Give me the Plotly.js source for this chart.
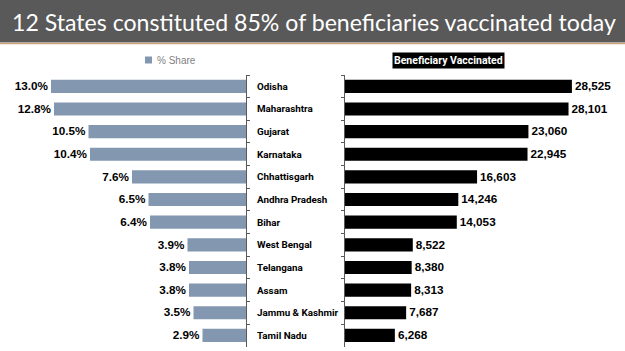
<!DOCTYPE html>
<html><head><meta charset="utf-8">
<script src="https://cdn.plot.ly/plotly-3.0.1.min.js"></script>
<style>html,body{margin:0;padding:0;background:#fff}#c{width:625px;height:351px}</style>
</head><body><div id="c"></div>
<script>
const states = ["Odisha","Maharashtra","Gujarat","Karnataka","Chhattisgarh","Andhra Pradesh","Bihar","West Bengal","Telangana","Assam","Jammu & Kashmir","Tamil Nadu"];
const sharePct = [13.0,12.8,10.5,10.4,7.6,6.5,6.4,3.9,3.8,3.8,3.5,2.9];
const vaccinated = [28525,28101,23060,22945,16603,14246,14053,8522,8380,8313,7687,6268];
const titleText = "12 States constituted 85% of beneficiaries vaccinated today";
const legendShare = "% Share";
const legendVacc = "Beneficiary Vaccinated";

const W = 625, H = 351;
const py = p => 1 - p / H;
const px = p => p / W;
const valFont = {family: "Liberation Sans, Arial, sans-serif", size: 12.5, color: "#000", weight: "bold"};

const traces = [
  {type: "bar", orientation: "h", y: states, x: sharePct, xaxis: "x", yaxis: "y",
   marker: {color: "#8497b0"}, text: sharePct.map(v => v.toFixed(1) + "%"),
   textposition: "outside", textfont: valFont,
   cliponaxis: false, hoverinfo: "none", showlegend: false},
  {type: "bar", orientation: "h", y: states, x: vaccinated, xaxis: "x2", yaxis: "y2",
   marker: {color: "#000"}, text: vaccinated.map(v => v.toLocaleString("en-US")),
   textposition: "outside", textfont: valFont,
   cliponaxis: false, hoverinfo: "none", showlegend: false}
];

const yDom = [py(346.7), py(75)];
const annotations = states.map(s => ({
  xref: "paper", yref: "y", x: px(255), y: s, xanchor: "left", yanchor: "middle",
  text: "<b>" + s + "</b>", showarrow: false,
  font: {family: "Roboto, sans-serif", size: 9.8, color: "#000"}
}));
annotations.push({xref: "paper", yref: "paper", x: px(10), y: py(21.5), xanchor: "left", yanchor: "middle",
  text: titleText, showarrow: false, font: {family: "Lato, sans-serif", size: 23.1, color: "#fff"}});
annotations.push({xref: "paper", yref: "paper", x: px(155), y: py(60), xanchor: "left", yanchor: "middle",
  text: legendShare, showarrow: false, font: {family: "Liberation Sans, sans-serif", size: 10, color: "#7f7f7f"}});
annotations.push({xref: "paper", yref: "paper", x: px(448), y: py(60), xanchor: "center", yanchor: "middle",
  text: "<b>" + legendVacc + "</b>", showarrow: false, bgcolor: "#000", borderpad: 1,
  font: {family: "Roboto, sans-serif", size: 10.5, color: "#fff"}});

const shapes = [
  {type: "rect", xref: "paper", yref: "paper", x0: 0, x1: 1, y0: py(42.5), y1: 1, fillcolor: "#595959", line: {width: 0}, layer: "below"},
  {type: "line", xref: "paper", yref: "paper", x0: 0, x1: 1, y0: py(43.5), y1: py(43.5), line: {color: "#c9a47c", width: 1.5}},
  {type: "rect", xref: "paper", yref: "paper", x0: px(145), x1: px(152), y0: py(63.5), y1: py(56.5), fillcolor: "#8497b0", line: {width: 0}}
];

const layout = {
  width: W, height: H, margin: {l: 0, r: 0, t: 0, b: 0},
  paper_bgcolor: "#fff", plot_bgcolor: "rgba(0,0,0,0)",
  bargap: 0.42, showlegend: false,
  xaxis: {domain: [0, px(246)], range: [16.4, 0], visible: false, fixedrange: true},
  yaxis: {domain: yDom, anchor: "x", side: "right", autorange: "reversed", showticklabels: false,
          showline: true, linecolor: "#595959", linewidth: 1, ticks: "outside", ticklen: 3, tickcolor: "#595959",
          tickson: "boundaries", showgrid: false, zeroline: false},
  xaxis2: {domain: [px(345), 1], range: [0, 35200], visible: false, fixedrange: true, anchor: "y2"},
  yaxis2: {domain: yDom, anchor: "x2", side: "left", autorange: "reversed", showticklabels: false,
          showline: true, linecolor: "#595959", linewidth: 1, ticks: "outside", ticklen: 3, tickcolor: "#595959",
          tickson: "boundaries", showgrid: false, zeroline: false},
  annotations, shapes
};
Plotly.newPlot("c", traces, layout, {staticPlot: true, displayModeBar: false});
</script></body></html>
